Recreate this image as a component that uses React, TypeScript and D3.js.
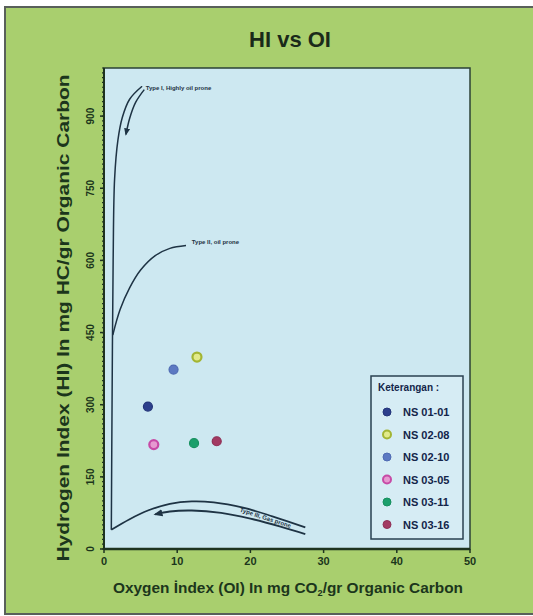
import React from 'react';
import * as d3 from 'd3';

// samples (OI, HI)
const samples = ['NS 01-01', 'NS 02-08', 'NS 02-10', 'NS 03-05', 'NS 03-11', 'NS 03-16'];
const oiValues = [6.0, 12.7, 9.5, 6.8, 12.3, 15.4];
const hiValues = [296, 399, 373, 217, 220, 224];
const fillColors = ['#2c3f8c', '#e2ea8a', '#5c79c2', '#e69ad0', '#1c9f6c', '#a23a62'];
const strokeColors = ['#24357a', '#a3b533', '#4f6bb3', '#c74aa6', '#17905f', '#8f2f55'];

// reference kerogen curves
const typeI: [number, number][] = [[1.0, 40], [1.1, 300], [1.25, 600], [1.45, 770], [1.9, 850], [2.5, 897], [3.5, 935], [5.2, 962]];
const typeIArrow: [number, number][] = [[5.5, 955], [4.3, 928], [3.5, 895], [3.0, 862]];
const typeII: [number, number][] = [[1.2, 445], [2.2, 498], [3.5, 543], [5.0, 580], [7.0, 610], [9.0, 625], [11.2, 631]];
const typeIII: [number, number][] = [[1.0, 40], [3.5, 62], [6, 80], [9, 94], [12, 99], [15, 97], [19, 86], [23, 68], [27.5, 45]];
const typeIIIArrow: [number, number][] = [[27.5, 31], [24, 47], [20, 63], [16, 75], [12, 80], [9, 78], [7, 72]];

const xTicks = [0, 10, 20, 30, 40, 50];
const yTicks = [0, 150, 300, 450, 600, 750, 900];

const W = 533;
const H = 616;
const plot = { left: 104, right: 470, top: 68, bottom: 549 };

const font = '"Liberation Sans", Arial, sans-serif';
const textColor = '#1c361c';

export default function App() {
  const x = d3.scaleLinear().domain([0, 50]).range([plot.left, plot.right]);
  const y = d3.scaleLinear().domain([0, 1000]).range([plot.bottom, plot.top]);

  const line = d3
    .line<[number, number]>()
    .x((d) => x(d[0]))
    .y((d) => y(d[1]))
    .curve(d3.curveCatmullRom.alpha(0.5));

  const minorY = d3.range(0, 1001, 10);

  return (
    <svg width={W} height={H} style={{ position: 'absolute', left: 0, top: 0 }}>
      <defs>
        <marker id="arrow" viewBox="0 0 10 10" refX="8" refY="5" markerWidth="5" markerHeight="5" orient="auto">
          <path d="M0,1 L10,5 L0,9 z" fill="#1e3344" />
        </marker>
      </defs>
      <rect x={0} y={0} width={W} height={H} fill="#ffffff" />
      <rect x={5} y={7} width={W + 5} height={H - 9} fill="#a9cf6e" stroke="#59605a" strokeWidth={2} />

      <text x={290} y={47} textAnchor="middle" fontFamily={font} fontWeight="bold" fontSize={22} fill="#1a2a1a">
        HI vs OI
      </text>

      {/* plot area */}
      <rect
        x={plot.left}
        y={plot.top}
        width={plot.right - plot.left}
        height={plot.bottom - plot.top}
        fill="#cde8f1"
        stroke="#2b4236"
        strokeWidth={1.5}
      />

      {/* y axis */}
      {minorY.map((v) => (
        <line key={'my' + v} x1={plot.left - 2} x2={plot.left} y1={y(v)} y2={y(v)} stroke="#1e3320" strokeWidth={1.2} />
      ))}
      {yTicks.map((v) => (
        <g key={'y' + v}>
          <line x1={plot.left - 4} x2={plot.left} y1={y(v)} y2={y(v)} stroke="#1e3320" strokeWidth={1.5} />
          <text
            transform={`translate(${plot.left - 14},${y(v)}) rotate(-90)`}
            textAnchor="middle"
            dy="0.35em"
            fontFamily={font}
            fontWeight="bold"
            fontSize={10}
            fill={textColor}
          >
            {v}
          </text>
        </g>
      ))}
      <line x1={plot.left} x2={plot.left} y1={plot.top} y2={plot.bottom} stroke="#1e3320" strokeWidth={2} />

      {/* x axis */}
      <line x1={plot.left} x2={plot.right} y1={plot.bottom} y2={plot.bottom} stroke="#1e3320" strokeWidth={2.5} />
      {xTicks.map((v) => (
        <g key={'x' + v}>
          <line x1={x(v)} x2={x(v)} y1={plot.bottom} y2={plot.bottom + 4} stroke="#1e3320" strokeWidth={1.5} />
          <text x={x(v)} y={plot.bottom + 16} textAnchor="middle" fontFamily={font} fontWeight="bold" fontSize={11} fill={textColor}>
            {v}
          </text>
        </g>
      ))}

      {/* axis titles */}
      <text
        transform={`translate(69,318) rotate(-90)`}
        textAnchor="middle"
        fontFamily={font}
        fontWeight="bold"
        fontSize={16}
        fill={textColor}
        textLength={487}
        lengthAdjust="spacingAndGlyphs"
      >
        Hydrogen Index (HI) In mg HC/gr Organic Carbon
      </text>
      <text
        x={288}
        y={593}
        textAnchor="middle"
        fontFamily={font}
        fontWeight="bold"
        fontSize={15}
        fill={textColor}
        textLength={350}
        lengthAdjust="spacingAndGlyphs"
      >
        Oxygen İndex (OI) In mg CO<tspan fontSize={9} dy="3">2</tspan><tspan dy="-3">/gr Organic Carbon</tspan>
      </text>

      {/* kerogen type curves */}
      <g fill="none" stroke="#1e3344" strokeWidth={1.5}>
        <path d={line(typeI) || ''} />
        <path d={line(typeIArrow) || ''} markerEnd="url(#arrow)" />
        <path d={line(typeII) || ''} />
        <path d={line(typeIII) || ''} strokeWidth={1.8} />
        <path d={line(typeIIIArrow) || ''} strokeWidth={1.8} markerEnd="url(#arrow)" />
      </g>
      <text x={x(5.7)} y={y(955)} fontFamily={font} fontWeight="bold" fontSize={6} fill="#1e3344">
        Type I, Highly oil prone
      </text>
      <text x={x(12)} y={y(635)} fontFamily={font} fontWeight="bold" fontSize={6} fill="#1e3344">
        Type II, oil prone
      </text>
      <text
        transform={`translate(${x(18.5)},${y(78)}) rotate(18)`}
        fontFamily={font}
        fontWeight="bold"
        fontSize={6}
        fill="#1e3344"
      >
        Type III, Gas prone
      </text>

      {/* samples */}
      {samples.map((s, i) => (
        <circle
          key={s}
          cx={x(oiValues[i])}
          cy={y(hiValues[i])}
          r={4.5}
          fill={fillColors[i]}
          stroke={strokeColors[i]}
          strokeWidth={i === 1 || i === 3 ? 2.2 : 1.2}
        />
      ))}

      {/* legend */}
      <g transform="translate(371,376)">
        <rect width={92} height={163} fill="#d6ecf4" stroke="#2a4050" strokeWidth={1.5} />
        <text x={7} y={15} fontFamily={font} fontWeight="bold" fontSize={10} fill="#13254a">
          Keterangan :
        </text>
        {samples.map((s, i) => (
          <g key={'l' + s} transform={`translate(0,${36 + i * 22.5})`}>
            <circle cx={16} cy={0} r={4} fill={fillColors[i]} stroke={strokeColors[i]} strokeWidth={i === 1 || i === 3 ? 2 : 1} />
            <text x={32} y={4} fontFamily={font} fontWeight="bold" fontSize={11} fill="#13254a">
              {s}
            </text>
          </g>
        ))}
      </g>
    </svg>
  );
}
